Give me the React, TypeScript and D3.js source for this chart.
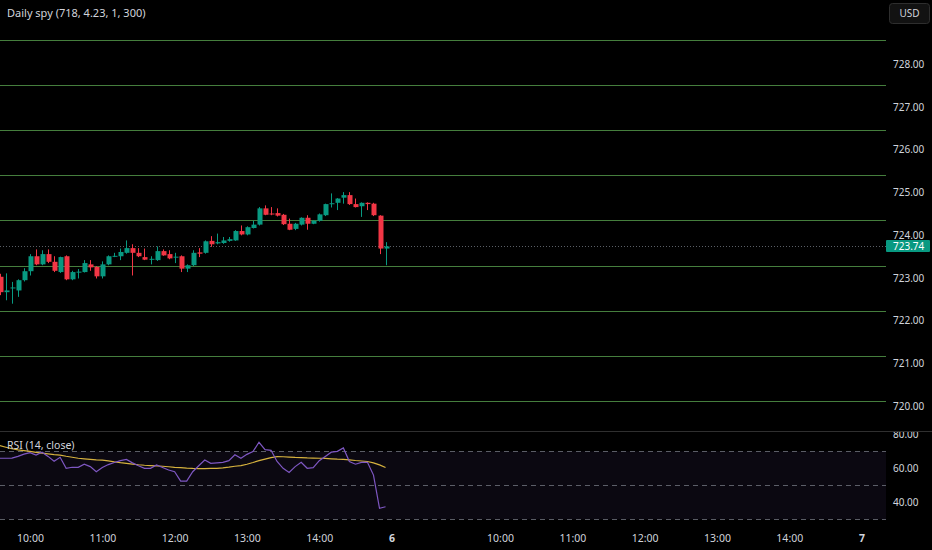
import React, { useEffect, useRef } from 'react'
import * as d3 from 'd3'

// 5 分钟 K 线，第一根是 09:35（索引 -5），10:00 为索引 0
const FIRST_BAR = -5
const opens = [723.03, 722.67, 722.76, 722.71, 722.95, 723.16, 723.51, 723.32, 723.56, 723.38, 723.14, 723.51, 722.97, 723.14, 723.14, 723.32, 723.26, 723.04, 723.32, 723.50, 723.51, 723.59, 723.70, 723.59, 723.49, 723.44, 723.42, 723.63, 723.56, 723.49, 723.51, 723.22, 723.30, 723.60, 723.59, 723.87, 723.81, 723.82, 723.87, 723.88, 724.10, 724.02, 724.17, 724.25, 724.63, 724.51, 724.52, 724.48, 724.27, 724.15, 724.25, 724.41, 724.27, 724.34, 724.47, 724.73, 724.76, 724.88, 724.94, 724.73, 724.68, 724.76, 724.74, 724.46, 723.69]
const highs = [723.10, 723.11, 722.91, 722.97, 723.23, 723.56, 723.67, 723.65, 723.67, 723.51, 723.50, 723.53, 723.17, 723.21, 723.42, 723.42, 723.28, 723.39, 723.53, 723.59, 723.69, 723.88, 723.79, 723.70, 723.69, 723.51, 723.74, 723.67, 723.65, 723.59, 723.53, 723.32, 723.65, 723.70, 723.88, 723.98, 724.04, 723.96, 723.96, 724.12, 724.23, 724.21, 724.34, 724.66, 724.70, 724.66, 724.63, 724.50, 724.39, 724.29, 724.42, 724.47, 724.35, 724.51, 724.74, 724.98, 724.87, 725.01, 725.01, 724.86, 724.77, 724.77, 724.76, 724.47, 723.84]
const lows = [722.60, 722.48, 722.40, 722.56, 722.92, 723.06, 723.30, 723.30, 723.35, 723.14, 723.12, 722.95, 722.95, 722.99, 723.13, 723.17, 722.99, 722.99, 723.30, 723.49, 723.42, 723.57, 723.06, 723.49, 723.42, 723.32, 723.40, 723.52, 723.44, 723.35, 723.14, 723.14, 723.28, 723.49, 723.57, 723.73, 723.79, 723.80, 723.85, 723.87, 724.00, 724.00, 724.16, 724.23, 724.47, 724.47, 724.44, 724.24, 724.12, 724.12, 724.23, 724.13, 724.26, 724.32, 724.45, 724.65, 724.59, 724.74, 724.71, 724.65, 724.43, 724.59, 724.45, 723.56, 723.30]
const closes = [722.67, 722.71, 722.78, 722.95, 723.16, 723.51, 723.32, 723.56, 723.38, 723.17, 723.49, 722.97, 723.14, 723.15, 723.35, 723.25, 723.04, 723.32, 723.51, 723.52, 723.61, 723.70, 723.59, 723.51, 723.43, 723.45, 723.63, 723.53, 723.46, 723.50, 723.22, 723.30, 723.59, 723.57, 723.86, 723.79, 723.84, 723.88, 723.91, 724.10, 724.02, 724.19, 724.25, 724.63, 724.48, 724.50, 724.46, 724.26, 724.13, 724.27, 724.41, 724.27, 724.34, 724.49, 724.73, 724.75, 724.86, 724.94, 724.73, 724.66, 724.76, 724.73, 724.47, 723.69, 723.74]

// RSI(14) 与 RSI 均线
const rsiValues = [65.9, 65.9, 66.0, 67.0, 68.3, 69.2, 67.8, 69.5, 67.0, 64.2, 66.5, 60.0, 60.6, 60.6, 62.4, 61.0, 58.0, 60.5, 62.2, 63.4, 64.5, 65.2, 63.2, 61.5, 60.0, 60.0, 62.0, 60.5, 59.0, 58.0, 52.5, 52.5, 58.0, 61.5, 64.9, 62.9, 63.2, 63.5, 64.5, 68.0, 65.9, 68.2, 69.8, 75.3, 71.0, 70.6, 64.0, 60.0, 57.6, 61.0, 63.5, 60.0, 60.4, 64.5, 67.0, 69.5, 70.0, 72.0, 64.0, 62.4, 63.5, 63.5, 56.0, 36.5, 37.4]
const rsiMa = [73.3, 72.4, 71.5, 70.8, 70.4, 70.0, 69.4, 68.9, 68.5, 68.1, 67.8, 67.1, 66.5, 65.9, 65.6, 65.3, 65.0, 64.8, 64.4, 63.8, 63.3, 62.9, 62.5, 62.1, 61.8, 61.6, 61.4, 61.2, 60.9, 60.6, 60.4, 60.1, 59.9, 59.8, 59.8, 59.9, 60.0, 60.3, 60.7, 61.2, 61.6, 62.4, 63.4, 64.5, 65.4, 66.3, 66.9, 66.8, 66.6, 66.4, 66.3, 66.1, 66.0, 65.9, 65.8, 65.6, 65.4, 65.3, 65.0, 64.6, 64.3, 64.0, 63.2, 62.0, 60.5]

// Daily spy (718, 4.23, 1, 300) 画出的水平线
const levels = [720.12, 721.17, 722.23, 723.29, 724.35, 725.40, 726.46, 727.52, 728.58]
const priceTicks = [720, 721, 722, 723, 724, 725, 726, 727, 728]
const rsiTicks = [40, 60, 80]
const rsiBands = [70, 50, 30]
const lastPrice = 723.74
const timeTickBars = [0, 12, 24, 36, 48, 60, 78, 90, 102, 114, 126, 138]
const timeTickLabels = ['10:00', '11:00', '12:00', '13:00', '14:00', '6', '10:00', '11:00', '12:00', '13:00', '14:00', '7']

const GREEN = '#089981'
const RED = '#f23645'
const TEXT = '#d1d4dc'
const FONT = '"Noto Sans", "Open Sans", sans-serif'

const App = () => {
    const ref = useRef<SVGSVGElement>(null)

    const drawChart = () => {
        const w = 932, h = 550
        const paneRight = 886
        const mainBottom = 431
        const svg = d3.select(ref.current)
        svg.selectAll('*').remove()
        svg.attr('width', w).attr('height', h).style('background', '#000')

        const x = d3.scaleLinear().domain([0, 138]).range([30, 861.6])
        const y = d3.scaleLinear().domain([720, 728]).range([406.3, 64.3])
        const yr = d3.scaleLinear().domain([30, 70]).range([519.3, 451.3])

        const defs = svg.append('defs')
        defs.append('clipPath').attr('id', 'mainClip')
            .append('rect').attr('x', 0).attr('y', 0).attr('width', paneRight).attr('height', mainBottom)
        defs.append('clipPath').attr('id', 'rsiClip')
            .append('rect').attr('x', 0).attr('y', mainBottom + 1).attr('width', w).attr('height', 94)

        // 水平线
        const main = svg.append('g').attr('clip-path', 'url(#mainClip)')
        main.selectAll('line.level').data(levels).enter().append('line')
            .attr('class', 'level')
            .attr('x1', 0).attr('x2', paneRight)
            .attr('y1', d => Math.round(y(d)) + 0.5).attr('y2', d => Math.round(y(d)) + 0.5)
            .attr('stroke', '#457e3d').attr('stroke-width', 1)

        // 最新价虚线
        main.append('line')
            .attr('x1', 0).attr('x2', paneRight)
            .attr('y1', Math.round(y(lastPrice)) + 0.5).attr('y2', Math.round(y(lastPrice)) + 0.5)
            .attr('stroke', '#5a5f66').attr('stroke-dasharray', '1,2')

        const bars = opens.map((o, k) => ({ i: k + FIRST_BAR, o, h: highs[k], l: lows[k], c: closes[k] }))
        const color = (d: any) => (d.c >= d.o ? GREEN : RED)

        // 影线
        main.selectAll('line.wick').data(bars).enter().append('line')
            .attr('class', 'wick')
            .attr('x1', d => Math.round(x(d.i)) + 0.5).attr('x2', d => Math.round(x(d.i)) + 0.5)
            .attr('y1', d => y(d.h)).attr('y2', d => y(d.l))
            .attr('stroke', color)

        // 实体
        main.selectAll('rect.body').data(bars).enter().append('rect')
            .attr('class', 'body')
            .attr('x', d => Math.round(x(d.i)) - 1.5)
            .attr('width', 5)
            .attr('y', d => y(Math.max(d.o, d.c)))
            .attr('height', d => Math.max(1, Math.abs(y(d.o) - y(d.c))))
            .attr('fill', color)

        // 标题
        svg.append('text').attr('x', 7).attr('y', 17)
            .attr('fill', TEXT).attr('font-family', FONT).attr('font-size', 11)
            .text('Daily spy (718, 4.23, 1, 300)')

        // 价格轴
        const priceAxis = svg.append('g')
            .attr('transform', `translate(${paneRight},0)`)
            .call(d3.axisRight(y).tickValues(priceTicks).tickFormat(d3.format('.2f')).tickSize(0).tickPadding(7))
        priceAxis.select('.domain').remove()
        priceAxis.selectAll('text').attr('fill', TEXT).attr('font-family', FONT).attr('font-size', 10)
            .attr('dy', '0.3em')

        // USD 按钮
        svg.append('rect').attr('x', 889.5).attr('y', 3.5).attr('width', 40).attr('height', 20).attr('rx', 3)
            .attr('fill', '#121212').attr('stroke', '#2e2e2e')
        svg.append('text').attr('x', 909.5).attr('y', 17).attr('text-anchor', 'middle')
            .attr('fill', TEXT).attr('font-family', FONT).attr('font-size', 10)
            .text('USD')

        // 最新价标签
        svg.append('rect').attr('x', paneRight).attr('y', Math.round(y(lastPrice)) - 6)
            .attr('width', 44).attr('height', 12).attr('rx', 1).attr('fill', GREEN)
        svg.append('text').attr('x', paneRight + 7).attr('y', y(lastPrice)).attr('dy', '0.35em')
            .attr('fill', '#fff').attr('font-family', FONT).attr('font-size', 10)
            .text(d3.format('.2f')(lastPrice))

        // 分隔线
        svg.append('line').attr('x1', 0).attr('x2', w)
            .attr('y1', mainBottom + 0.5).attr('y2', mainBottom + 0.5)
            .attr('stroke', '#2f2f2f')

        // RSI 面板
        const rsi = svg.append('g').attr('clip-path', 'url(#rsiClip)')
        rsi.append('rect').attr('x', 0).attr('width', paneRight)
            .attr('y', yr(70)).attr('height', yr(30) - yr(70))
            .attr('fill', '#7e57c2').attr('fill-opacity', 0.09)
        rsi.selectAll('line.band').data(rsiBands).enter().append('line')
            .attr('class', 'band')
            .attr('x1', 0).attr('x2', paneRight)
            .attr('y1', d => Math.round(yr(d)) + 0.5).attr('y2', d => Math.round(yr(d)) + 0.5)
            .attr('stroke', '#787b86').attr('stroke-opacity', 0.75).attr('stroke-dasharray', '5,4')

        const rsiLine = d3.line<number>().x((d, k) => x(k + FIRST_BAR)).y(d => yr(d))
        rsi.append('path').attr('d', rsiLine(rsiMa))
            .attr('fill', 'none').attr('stroke', '#d6b23e').attr('stroke-width', 1.2)
        rsi.append('path').attr('d', rsiLine(rsiValues))
            .attr('fill', 'none').attr('stroke', '#7e57c2').attr('stroke-width', 1.2)

        rsi.append('text').attr('x', 7).attr('y', 449)
            .attr('fill', TEXT).attr('font-family', FONT).attr('font-size', 10.5)
            .text('RSI (14, close)')

        const rsiAxis = rsi.append('g')
            .attr('transform', `translate(${paneRight},0)`)
            .call(d3.axisRight(yr).tickValues(rsiTicks).tickFormat(d3.format('.2f')).tickSize(0).tickPadding(7))
        rsiAxis.select('.domain').remove()
        rsiAxis.selectAll('text').attr('fill', TEXT).attr('font-family', FONT).attr('font-size', 10)
            .attr('dy', '0.3em')

        // 时间轴
        const timeAxis = svg.append('g')
            .attr('transform', 'translate(0,529)')
            .call(d3.axisBottom(x).tickValues(timeTickBars)
                .tickFormat((d, k) => timeTickLabels[k]).tickSize(0).tickPadding(6))
        timeAxis.select('.domain').remove()
        timeAxis.selectAll('text').attr('fill', TEXT).attr('font-family', FONT).attr('font-size', 10.5)
            .attr('font-weight', (d, k) => (timeTickLabels[k].length === 1 ? 700 : 400))
    }

    useEffect(() => {
        document.body.style.margin = '0'
        document.body.style.background = '#000'
        drawChart()
    }, [])

    return (<>
        <svg ref={ref} style={{ display: 'block' }}></svg>
    </>)
}

export default App
